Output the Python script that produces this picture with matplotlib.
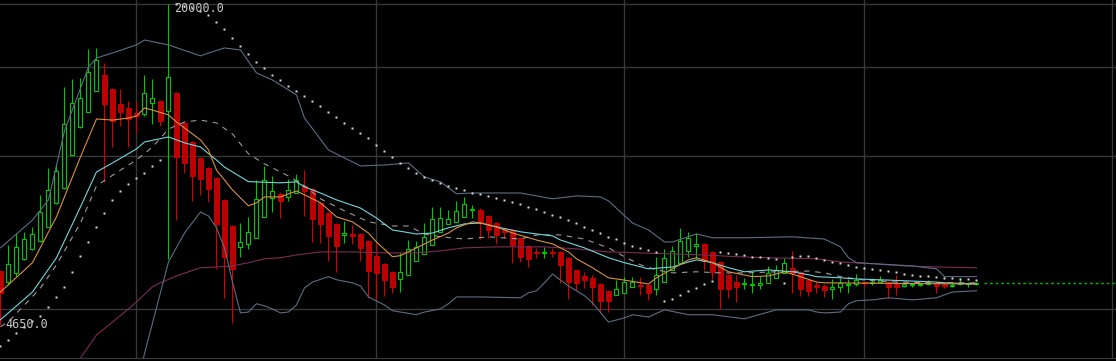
import numpy as np
import matplotlib.pyplot as plt


# daily candles, oldest first (one value per candle)
opens = [5940, 5650, 5890, 6280, 6570, 6810, 7260, 8100, 8670, 10070,
         11440, 12240, 13470, 14490, 13590, 12700, 12470, 12190, 12130, 12760,
         12870, 12300, 13350, 11650, 10680, 9930, 9490, 9070, 8210, 7290,
         6630, 6720, 6910, 7600, 8280, 8440, 8320, 8470, 8750, 8630,
         8100, 7740, 7360, 7000, 7030, 7030, 6810, 6360, 6140, 5920,
         5730, 5840, 6220, 6420, 6690, 7100, 7360, 7430, 7600, 7840,
         7840, 7630, 7390, 7190, 7160, 6910, 6660, 6480, 6450, 6480,
         6480, 6310, 5970, 5810, 5760, 5600, 5430, 5330, 5380, 5530,
         5580, 5580, 5480, 5650, 5970, 6160, 6510, 6660, 6720, 6480,
         6190, 5840, 5650, 5600, 5580, 5580, 5630, 5760, 5890, 6030,
         5920, 5700, 5580, 5550, 5480, 5530, 5580, 5600, 5650, 5630,
         5650, 5650, 5600, 5550, 5580, 5580, 5600, 5630, 5600, 5550,
         5600, 5600, 5600]
highs = [5950, 6690, 7060, 7100, 7260, 8400, 9490, 9670, 13720, 14220,
         14290, 16300, 16380, 15300, 13650, 13590, 12870, 12810, 14490, 14220,
         12930, 20000, 13410, 11700, 10730, 9980, 9530, 9110, 8250, 7330,
         7390, 7600, 8990, 9580, 9150, 8510, 9030, 9240, 9400, 8670,
         8130, 7770, 7390, 7460, 7330, 7060, 6840, 6750, 6170, 5940,
         6480, 6840, 6810, 7390, 7950, 7950, 7840, 8170, 8320, 8020,
         7910, 7670, 7430, 7230, 7190, 6940, 6690, 6600, 6630, 6600,
         6510, 6340, 6000, 5920, 5840, 5630, 5450, 5700, 5790, 5790,
         5790, 5600, 6340, 6570, 6660, 7230, 7100, 7060, 6750, 6510,
         6220, 5860, 5840, 5760, 5920, 5810, 6080, 6110, 6310, 6510,
         5940, 5730, 5650, 5600, 5730, 5760, 5730, 5860, 5680, 5760,
         5810, 5680, 5840, 5630, 5630, 5650, 5700, 5650, 5630, 5630,
         5760, 5650, 5650]
lows = [4650, 5580, 5810, 6250, 6540, 6780, 7250, 8060, 8630, 10050,
        11390, 12220, 13450, 8910, 10440, 11490, 10440, 11130, 12020, 11600,
        11490, 6280, 7490, 9280, 8170, 8400, 8130, 6000, 5260, 4690,
        6330, 6570, 6900, 7590, 7770, 7560, 8170, 8460, 7630, 6780,
        6750, 6220, 5920, 6750, 6720, 6220, 5260, 5230, 5310, 5380,
        5400, 5830, 6210, 6410, 6680, 7090, 7350, 7420, 7590, 7560,
        6870, 6910, 6720, 6910, 6160, 6190, 6050, 6310, 6310, 6340,
        5630, 5230, 5450, 5500, 5090, 4930, 4930, 5320, 5370, 5520,
        5330, 5210, 5330, 5640, 5960, 6150, 6340, 6310, 5970, 5730,
        5000, 5260, 5160, 5480, 5380, 5480, 5620, 5750, 5880, 5380,
        5310, 5310, 5380, 5280, 5230, 5400, 5380, 5550, 5530, 5580,
        5630, 5260, 5330, 5530, 5530, 5550, 5580, 5380, 5500, 5530,
        5580, 5530, 5580]
closes = [5380, 6140, 6630, 6870, 7030, 7770, 8590, 9360, 11600, 12760,
          13050, 14680, 15510, 12700, 11750, 12240, 11860, 12020, 13350, 13050,
          11750, 14350, 9980, 9710, 9150, 9030, 8630, 7360, 6330, 6000,
          6780, 7100, 8250, 8990, 8550, 8170, 8590, 8990, 8550, 7530,
          7360, 6970, 6660, 7060, 6970, 6600, 5940, 5890, 5700, 5530,
          5920, 6570, 6630, 6940, 7530, 7560, 7530, 7810, 8060, 7880,
          7390, 7160, 7000, 7100, 6690, 6340, 6280, 6450, 6480, 6450,
          6110, 5650, 5630, 5700, 5530, 5190, 5190, 5480, 5650, 5650,
          5550, 5380, 5840, 6310, 6510, 6810, 6910, 6720, 6220, 5920,
          5480, 5480, 5530, 5630, 5600, 5630, 5890, 5970, 6160, 5890,
          5480, 5430, 5530, 5450, 5530, 5630, 5600, 5700, 5630, 5650,
          5700, 5530, 5530, 5600, 5600, 5600, 5630, 5550, 5550, 5580,
          5630, 5630, 5630]

# parabolic SAR, one dot per candle (nan = no dot)
sar = [4230, 4340, 4480, 4610, 4740, 4850, 5050, 5280, 5530, 5920,
       6360, 6780, 7260, 7740, 8210, 8550, 8830, 9070, 9280, 9580,
       9840, np.nan, 20000, 19820, 19640, 19370, 19020, 18430, 17850, 17120,
       16520, 15940, 15370, 14960, 14490, 14160, 13780, 13470, 13170, 12870,
       12580, 12240, 11970, 11650, 11380, 11130, 10880, 10540, 10250, 9980,
       9710, 9490, 9280, 9110, 8990, 8870, 8750, 8670, 8590, 8470,
       8440, 8360, 8280, 8210, 8130, 8060, 7950, 7880, 7770, 7670,
       7600, 7490, 7390, 7260, 7160, 7060, 6940, 6870, 6750, 6660,
       6600, 6540, 6480, 5190, 5230, 5330, 5430, 5500, 5600, 5680,
       6480, 6450, 6420, 6390, 6340, 6340, 6310, 6280, 5630, 6340,
       6360, 6360, 6310, 6250, 6190, 6170, 6110, 6050, 6030, 6000,
       5970, 5940, 5920, 5860, 5840, 5810, 5810, 5790, 5760, 5760,
       5730, 5730, 5700]

# bollinger bands, read at a few candles
bb_up_x = [0, 4, 6, 8, 11, 12, 14, 17, 18, 21, 25, 26, 28, 30, 32, 34, 37, 38, 41, 45,
           48, 51, 53, 55, 57, 59, 65, 69, 72, 75, 76, 79, 81, 83, 84, 87, 89, 93, 99, 103,
           105, 106, 107, 114, 117, 118, 122]
bb_up = [6600, 7490, 8210, 11230, 15020, 15650, 16010, 16610, 16980, 16610,
         15800, 16010, 16380, 16230, 14620, 14160, 13230, 11910, 10300, 9580,
         9620, 9710, 9110, 8910, 8440, 8470, 8470, 8250, 8360, 8320,
         8170, 7390, 7160, 6780, 6780, 7030, 6910, 6910, 6940, 6870,
         6630, 6310, 6170, 6080, 6000, 5790, 5790]
bb_lo_x = [17, 18, 21, 23, 25, 26, 27, 28, 29, 30, 31, 32, 33, 34, 35, 36, 37, 38, 39, 41,
           42, 44, 45, 46, 48, 49, 52, 53, 55, 56, 57, 60, 65, 66, 67, 68, 69, 71, 72, 73,
           74, 76, 78, 79, 81, 83, 86, 89, 93, 96, 97, 101, 102, 103, 105, 106, 107, 109, 111, 114,
           117, 118, 119, 122]
bb_lo = [3510, 4080, 6190, 7060, 7770, 7630, 7230, 6600, 5650, 4910,
         4930, 5120, 5070, 5000, 4910, 4930, 5090, 5500, 5650, 5790,
         5710, 5630, 5550, 5280, 5090, 4960, 4870, 4930, 5000, 5120,
         5280, 5280, 5260, 5380, 5430, 5630, 5860, 5550, 5430, 5310,
         5140, 4710, 4800, 4870, 4820, 4980, 4870, 4870, 4780, 4930,
         4980, 4980, 4930, 4910, 4930, 5120, 5190, 5210, 5260, 5210,
         5260, 5330, 5400, 5430]

# moving averages
ma_mid_x = [0, 4, 7, 10, 12, 14, 17, 18, 21, 23, 25, 27, 28, 31, 35, 37, 38, 40, 42, 45,
            47, 49, 52, 54, 56, 58, 60, 62, 65, 67, 69, 70, 73, 76, 78, 81, 84, 86, 87, 89,
            91, 93, 96, 99, 101, 102, 105, 107, 111, 117, 118, 122]
ma_mid = [4760, 5400, 6310, 7950, 9320, 9710, 10350, 10680, 10930, 10640,
          10440, 9840, 9530, 8920, 8870, 8910, 8710, 8470, 8210, 7910,
          7560, 7160, 7030, 7060, 7230, 7360, 7390, 7260, 7100, 7030,
          6970, 6840, 6600, 6310, 6170, 6000, 6050, 6190, 6250, 6170,
          6030, 5920, 5970, 5920, 5840, 5790, 5760, 5730, 5700, 5650,
          5630, 5600]
ma_fast_x = [0, 4, 7, 10, 12, 14, 16, 17, 18, 19, 21, 22, 25, 26, 27, 29, 31, 32, 33, 35,
             37, 39, 40, 42, 44, 46, 47, 49, 50, 52, 54, 56, 57, 59, 60, 62, 64, 67, 69, 71,
             72, 74, 76, 78, 81, 82, 84, 86, 87, 89, 91, 94, 96, 98, 100, 102, 103, 122]
ma_fast = [5400, 6170, 7600, 9980, 11860, 11800, 11910, 12020, 12470, 12350,
           12080, 11700, 10780, 10300, 9400, 8590, 7990, 8100, 8320, 8320,
           8550, 8250, 8100, 7600, 7430, 7060, 6780, 6340, 6370, 6600,
           6840, 7060, 7230, 7430, 7390, 7260, 7060, 6840, 6720, 6480,
           6280, 6030, 5760, 5700, 5600, 5760, 6000, 6250, 6310, 6170,
           5920, 5790, 5810, 5920, 5790, 5650, 5630, 5600]
ma_dash_x = [0, 1, 3, 5, 7, 10, 12, 15, 17, 19, 21, 23, 25, 27, 29, 31, 33, 36, 38, 40,
             43, 46, 49, 51, 53, 55, 58, 61, 65, 67, 70, 73, 76, 78, 80, 82, 84, 87, 90, 93,
             97, 101, 103, 105, 108, 112, 117, 122]
ma_dash = [4610, 4720, 5090, 5500, 6110, 7390, 8750, 9400, 9840, 10440,
           11330, 11700, 11800, 11650, 11080, 10120, 9670, 9150, 8750, 8250,
           7810, 7430, 7290, 7290, 7030, 6940, 6870, 6940, 6870, 7000,
           7000, 6870, 6600, 6340, 6110, 5970, 5890, 5920, 5890, 5890,
           5920, 5940, 5890, 5790, 5700, 5650, 5630, 5630]
ma_slow_x = [9, 10, 12, 16, 17, 19, 20, 22, 25, 27, 29, 31, 33, 35, 37, 40, 44, 48, 52, 55,
             58, 62, 68, 72, 76, 80, 84, 88, 92, 96, 102, 105, 109, 113, 117, 122]
ma_slow = [3830, 4000, 4440, 5000, 5160, 5530, 5630, 5810, 6030, 6050,
           6080, 6170, 6280, 6310, 6390, 6480, 6480, 6450, 6450, 6510,
           6600, 6630, 6630, 6570, 6480, 6450, 6420, 6390, 6340, 6310,
           6280, 6190, 6140, 6080, 6050, 6030]

grid_prices = [5000, 10000, 15000, 20000]
grid_days = [17, 47, 78, 108, 139]

GREEN = '#00c800'
RED = '#d40000'
RED_BODY = '#b80000'
GRID = '#383838'
LW = 0.8


fig = plt.figure(figsize=(11.16, 3.61), dpi=100, facecolor='black')
ax = fig.add_axes([0, 3 / 361, 1, 358 / 361])
ax.set_facecolor('black')
ax.set_yscale('log')

# grid
for p in grid_prices:
    ax.axhline(p, color=GRID, lw=1, zorder=0)
for d in grid_days:
    ax.axvline(d, color=GRID, lw=1, zorder=0)

# candles: hollow green up days, filled red down days
o = np.array(opens, dtype=float)
h = np.array(highs, dtype=float)
l = np.array(lows, dtype=float)
c = np.array(closes, dtype=float)
x = np.arange(len(o))
up = c >= o
lo_body = np.minimum(o, c)
hi_body = np.maximum(o, c)

ax.vlines(x[up], l[up], h[up], color=GREEN, lw=LW, zorder=2)
ax.vlines(x[~up], l[~up], h[~up], color=RED, lw=LW, zorder=2)
ax.bar(x[up], hi_body[up] - lo_body[up], bottom=lo_body[up], width=0.5,
       facecolor='black', edgecolor=GREEN, lw=LW, zorder=3)
ax.bar(x[~up], hi_body[~up] - lo_body[~up], bottom=lo_body[~up], width=0.6,
       facecolor=RED_BODY, edgecolor=RED, lw=0.6, zorder=3)

# indicator overlays
ax.plot(ma_slow_x, ma_slow, color='#7b2c55', lw=LW, zorder=4)
ax.plot(bb_up_x, bb_up, color='#5b6d86', lw=LW, zorder=4)
ax.plot(bb_lo_x, bb_lo, color='#5b6d86', lw=LW, zorder=4)
ax.plot(ma_dash_x, ma_dash, color='#9a9a9a', lw=LW, ls=(0, (5, 5)), zorder=4)
ax.plot(ma_mid_x, ma_mid, color='#72d6dc', lw=LW, zorder=5)
ax.plot(ma_fast_x, ma_fast, color='#d9903f', lw=LW, zorder=5)
ax.plot(x, sar, ls='none', marker='s', ms=1.6, mfc='#d8d8d8', mec='none', zorder=6)

# last price line
ax.hlines(closes[-1], len(closes), 140, colors='#00b400', lw=1, linestyles=(0, (2, 2)))

# high / low markers
ax.text(21.7, 20150, '20000.0', color='#c8c8c8', family='DejaVu Sans Mono',
        fontsize=8.5, va='top', ha='left', zorder=7)
ax.text(0.6, 4650, '4650.0', color='#c8c8c8', family='DejaVu Sans Mono',
        fontsize=8.5, va='center', ha='left', zorder=7)

ax.set_xlim(-0.06, 139.44)
ax.set_ylim(4000, 20370)
ax.set_xticks([])
ax.set_yticks([])
ax.minorticks_off()
for side in ['top', 'left', 'right']:
    ax.spines[side].set_visible(False)
ax.spines['bottom'].set_color(GRID)

fig.savefig('out.png', dpi=100, facecolor='black')
